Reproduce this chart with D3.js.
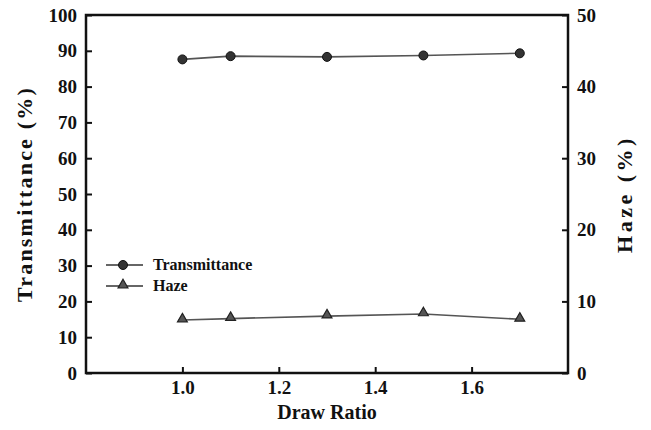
<!DOCTYPE html>
<html lang="en">
<head>
  <meta charset="UTF-8">
  <title>Transmittance and Haze vs Draw Ratio</title>
  <style>
    body { margin: 0; background: #fff; }
    .frame { fill: none; stroke: #111; stroke-width: 2.5px; }
    .tick line { stroke: #111; stroke-width: 2px; }
    .series { fill: none; stroke: #555; stroke-width: 1.6px; }
  </style>
  <script src="https://d3js.org/d3.v7.min.js"></script>
</head>
<body>
<div id="chart"></div>
<script>
  // data
  var drawRatio = [1.0, 1.1, 1.3, 1.5, 1.7];
  var transmittance = [87.6, 88.5, 88.3, 88.7, 89.3];
  var haze = [7.4, 7.6, 7.95, 8.25, 7.5];
  var xTicks = [1.0, 1.2, 1.4, 1.6];
  var leftTicks = [0, 10, 20, 30, 40, 50, 60, 70, 80, 90, 100];
  var rightTicks = [0, 10, 20, 30, 40, 50];

  var width = 651, height = 430;
  var margin = {left: 86, right: 83, top: 15, bottom: 57};
  var serif = "'Liberation Serif', 'Times New Roman', serif";

  var svg = d3.select("#chart").append("svg")
    .attr("width", width)
    .attr("height", height);

  var x = d3.scaleLinear().domain([0.8, 1.8]).range([margin.left, width - margin.right]);
  var yL = d3.scaleLinear().domain([0, 100]).range([height - margin.bottom, margin.top]);
  var yR = d3.scaleLinear().domain([0, 50]).range([height - margin.bottom, margin.top]);

  // axes (ticks pointing into the plot)
  var gx = svg.append("g")
    .attr("transform", "translate(0," + (height - margin.bottom) + ")")
    .call(d3.axisBottom(x).tickValues(xTicks).tickFormat(d3.format(".1f")).tickSizeInner(-6).tickSizeOuter(0).tickPadding(8));
  var gl = svg.append("g")
    .attr("transform", "translate(" + margin.left + ",0)")
    .call(d3.axisLeft(yL).tickValues(leftTicks).tickSizeInner(-6).tickSizeOuter(0).tickPadding(9));
  var gr = svg.append("g")
    .attr("transform", "translate(" + (width - margin.right) + ",0)")
    .call(d3.axisRight(yR).tickValues(rightTicks).tickSizeInner(-6).tickSizeOuter(0).tickPadding(9));

  [gx, gl, gr].forEach(function(g) {
    g.select(".domain").remove();
    g.selectAll("text").style("font-size", "19px");
  });

  svg.append("rect")
    .attr("class", "frame")
    .attr("x", margin.left)
    .attr("y", margin.top)
    .attr("width", width - margin.left - margin.right)
    .attr("height", height - margin.top - margin.bottom);

  // axis titles
  svg.append("text")
    .attr("x", (margin.left + width - margin.right) / 2)
    .attr("y", 419)
    .attr("text-anchor", "middle")
    .style("font-size", "20px")
    .text("Draw Ratio");

  svg.append("text")
    .attr("transform", "translate(32," + (margin.top + height - margin.bottom) / 2 + ") rotate(-90)")
    .attr("text-anchor", "middle")
    .style("font-size", "22px")
    .style("letter-spacing", "2.2px")
    .text("Transmittance (%)");

  svg.append("text")
    .attr("transform", "translate(632," + (margin.top + height - margin.bottom) / 2 + ") rotate(-90)")
    .attr("text-anchor", "middle")
    .style("font-size", "22px")
    .style("letter-spacing", "3.5px")
    .text("Haze (%)");

  // series
  var tData = drawRatio.map(function(d, i) { return [d, transmittance[i]]; });
  var hData = drawRatio.map(function(d, i) { return [d, haze[i]]; });

  svg.append("path")
    .attr("class", "series")
    .attr("d", d3.line().x(d => x(d[0])).y(d => yL(d[1]))(tData));
  svg.append("path")
    .attr("class", "series")
    .attr("d", d3.line().x(d => x(d[0])).y(d => yR(d[1]))(hData));

  var tri = d3.symbol().type(d3.symbolTriangle).size(42);

  svg.append("g").selectAll("circle")
    .data(tData)
    .enter().append("circle")
    .attr("cx", d => x(d[0]))
    .attr("cy", d => yL(d[1]))
    .attr("r", 4.5)
    .attr("fill", "#333")
    .attr("stroke", "#111");

  svg.append("g").selectAll("path")
    .data(hData)
    .enter().append("path")
    .attr("d", tri)
    .attr("transform", d => "translate(" + x(d[0]) + "," + (yR(d[1]) - 1) + ")")
    .attr("fill", "#555")
    .attr("stroke", "#222")
    .attr("stroke-width", 1.2);

  // legend
  var legend = svg.append("g").attr("transform", "translate(106,0)");
  var rows = [{name: "Transmittance", y: 265, marker: "circle"}, {name: "Haze", y: 286, marker: "triangle"}];
  rows.forEach(function(r) {
    legend.append("line")
      .attr("x1", 0).attr("x2", 37)
      .attr("y1", r.y).attr("y2", r.y)
      .attr("stroke", "#333").attr("stroke-width", 1.6);
    if (r.marker === "circle") {
      legend.append("circle")
        .attr("cx", 17).attr("cy", r.y).attr("r", 4.5)
        .attr("fill", "#333").attr("stroke", "#111");
    } else {
      legend.append("path")
        .attr("d", tri)
        .attr("transform", "translate(17," + (r.y - 1) + ")")
        .attr("fill", "#555").attr("stroke", "#222").attr("stroke-width", 1.2);
    }
    legend.append("text")
      .attr("x", 47).attr("y", r.y + 5)
      .style("font-size", "16px")
      .text(r.name);
  });

  // all text: bold serif, set inline so it wins over the axis defaults
  svg.selectAll("text")
    .style("font-family", serif)
    .style("font-weight", "bold")
    .attr("fill", "#111");
</script>
</body>
</html>
